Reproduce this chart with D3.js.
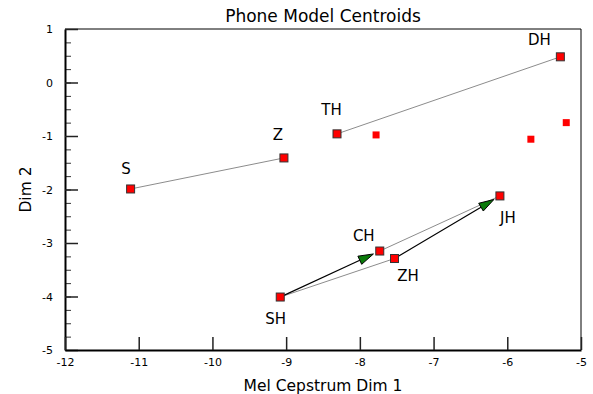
<!DOCTYPE html>
<html>
<head>
<meta charset="utf-8">
<script src="https://cdn.jsdelivr.net/npm/d3@7"></script>
<style>
  html, body { margin: 0; padding: 0; background: #fff; }
  svg { display: block; font-family: "DejaVu Sans", Verdana, sans-serif; }
</style>
</head>
<body>
<svg id="chart" width="593" height="394"></svg>
<script>
// ---- data ----
const phones = ["S", "Z", "TH", "DH", "CH", "ZH", "JH", "SH"];
const dim1 = [-11.11, -9.03, -8.31, -5.28, -7.73, -7.53, -6.10, -9.08];
const dim2 = [-1.99, -1.41, -0.96, 0.48, -3.15, -3.29, -2.12, -4.01];
const extraDim1 = [-7.78, -5.68, -5.20];
const extraDim2 = [-0.98, -1.06, -0.75];
const links = [["S", "Z"], ["TH", "DH"], ["SH", "ZH"], ["CH", "JH"]];
const arrows = [["SH", "CH"], ["ZH", "JH"]];
const xTicks = [-12, -11, -10, -9, -8, -7, -6, -5];
const yTicks = [-5, -4, -3, -2, -1, 0, 1];
const yMinorTicks = d3.range(-5, 1.001, 0.25);

// ---- layout (label placement, px relative to point) ----
const labelOffset = {
  S: [-4.5, -14.5], Z: [-6, -17.5], TH: [-5.5, -19], DH: [-21, -11.5],
  CH: [-16, -10.5], ZH: [13.5, 22.5], JH: [8, 27], SH: [-4.5, 26.5]
};

const margin = { left: 65, right: 12, top: 29, bottom: 44 };
const W = 593, H = 394;
const svg = d3.select("#chart");

const x = d3.scaleLinear().domain([-12, -5]).range([margin.left, W - margin.right]);
const y = d3.scaleLinear().domain([-5, 1]).range([H - margin.bottom, margin.top]);

const pts = phones.map((p, i) => ({ name: p, x: dim1[i], y: dim2[i] }));
const byName = Object.fromEntries(pts.map(d => [d.name, d]));
const extras = extraDim1.map((v, i) => ({ x: v, y: extraDim2[i] }));

// frame (top, right)
svg.append("path")
  .attr("d", `M${x(-12)},${y(1)}H${x(-5)}V${y(-5)}`)
  .attr("fill", "none").attr("stroke", "#000").attr("stroke-width", 1);

// minor y ticks
const yMinor = svg.append("g").attr("transform", `translate(${x(-12)},0)`)
  .call(d3.axisLeft(y).tickValues(yMinorTicks).tickSize(-6).tickFormat(""));
yMinor.select(".domain").remove();
yMinor.selectAll("line").attr("stroke", "#333").attr("stroke-width", 1);

// major y axis
const yAxis = svg.append("g").attr("transform", `translate(${x(-12)},0)`)
  .call(d3.axisLeft(y).tickValues(yTicks).tickSize(-13).tickSizeOuter(0).tickPadding(12).tickFormat(d3.format("d")));
yAxis.select(".domain").attr("stroke", "#000").attr("stroke-width", 2);
yAxis.selectAll("line").attr("stroke", "#222").attr("stroke-width", 1.5);
yAxis.selectAll("text").attr("font-size", 11).attr("fill", "#000")
  .attr("font-family", "DejaVu Sans, Verdana, sans-serif").text(d => d < 0 ? "-" + Math.abs(d) : d);

// x axis
const xAxis = svg.append("g").attr("transform", `translate(0,${y(-5)})`)
  .call(d3.axisBottom(x).tickValues(xTicks).tickSize(-13).tickSizeOuter(0).tickPadding(8));
xAxis.select(".domain").attr("stroke", "#000").attr("stroke-width", 2);
xAxis.selectAll("line").attr("stroke", "#222").attr("stroke-width", 1.5);
xAxis.selectAll("text").attr("font-size", 11).attr("fill", "#000")
  .attr("font-family", "DejaVu Sans, Verdana, sans-serif").text(d => d < 0 ? "-" + Math.abs(d) : d);

// titles
svg.append("text").attr("x", (x(-12) + x(-5)) / 2).attr("y", 22)
  .attr("text-anchor", "middle").attr("font-size", 17).attr("fill", "#000")
  .text("Phone Model Centroids");
svg.append("text").attr("x", (x(-12) + x(-5)) / 2).attr("y", 391)
  .attr("text-anchor", "middle").attr("font-size", 15.5).attr("fill", "#000")
  .text("Mel Cepstrum Dim 1");
svg.append("text")
  .attr("transform", `translate(31,${(y(1) + y(-5)) / 2}) rotate(-90)`)
  .attr("text-anchor", "middle").attr("font-size", 15.5).attr("fill", "#000")
  .text("Dim 2");

// gray links
svg.append("g").selectAll("line").data(links).join("line")
  .attr("x1", d => x(byName[d[0]].x)).attr("y1", d => y(byName[d[0]].y))
  .attr("x2", d => x(byName[d[1]].x)).attr("y2", d => y(byName[d[1]].y))
  .attr("stroke", "#8c8c8c").attr("stroke-width", 1);

// arrows
const arrowG = svg.append("g");
arrows.forEach(([a, b]) => {
  const x1 = x(byName[a].x), y1 = y(byName[a].y);
  const x2 = x(byName[b].x), y2 = y(byName[b].y);
  const dx = x2 - x1, dy = y2 - y1, L = Math.hypot(dx, dy);
  const ux = dx / L, uy = dy / L;
  const sx = x1 + ux * 4, sy = y1 + uy * 4;
  const tx = x2 - ux * 7, ty = y2 - uy * 7;
  const headLen = 15, headW = 4.5;
  const bx = tx - ux * headLen, by = ty - uy * headLen;
  arrowG.append("line").attr("x1", sx).attr("y1", sy).attr("x2", bx).attr("y2", by)
    .attr("stroke", "#000").attr("stroke-width", 1.2);
  arrowG.append("path")
    .attr("d", `M${tx},${ty}L${bx - uy * headW},${by + ux * headW}L${bx + uy * headW},${by - ux * headW}Z`)
    .attr("fill", "#0a7a0a").attr("stroke", "#000").attr("stroke-width", 1);
});

// extra (unlabeled) points
svg.append("g").selectAll("rect").data(extras).join("rect")
  .attr("x", d => x(d.x) - 3.5).attr("y", d => y(d.y) - 3.5)
  .attr("width", 7).attr("height", 7).attr("fill", "#ff0000");

// labeled points
svg.append("g").selectAll("rect").data(pts).join("rect")
  .attr("x", d => x(d.x) - 4).attr("y", d => y(d.y) - 4)
  .attr("width", 8).attr("height", 8).attr("fill", "#ff0000")
  .attr("stroke", "#333").attr("stroke-width", 1);

// labels
svg.append("g").selectAll("text").data(pts).join("text")
  .attr("x", d => x(d.x) + labelOffset[d.name][0])
  .attr("y", d => y(d.y) + labelOffset[d.name][1])
  .attr("text-anchor", "middle").attr("font-size", 15).attr("fill", "#000")
  .text(d => d.name);
</script>
</body>
</html>
